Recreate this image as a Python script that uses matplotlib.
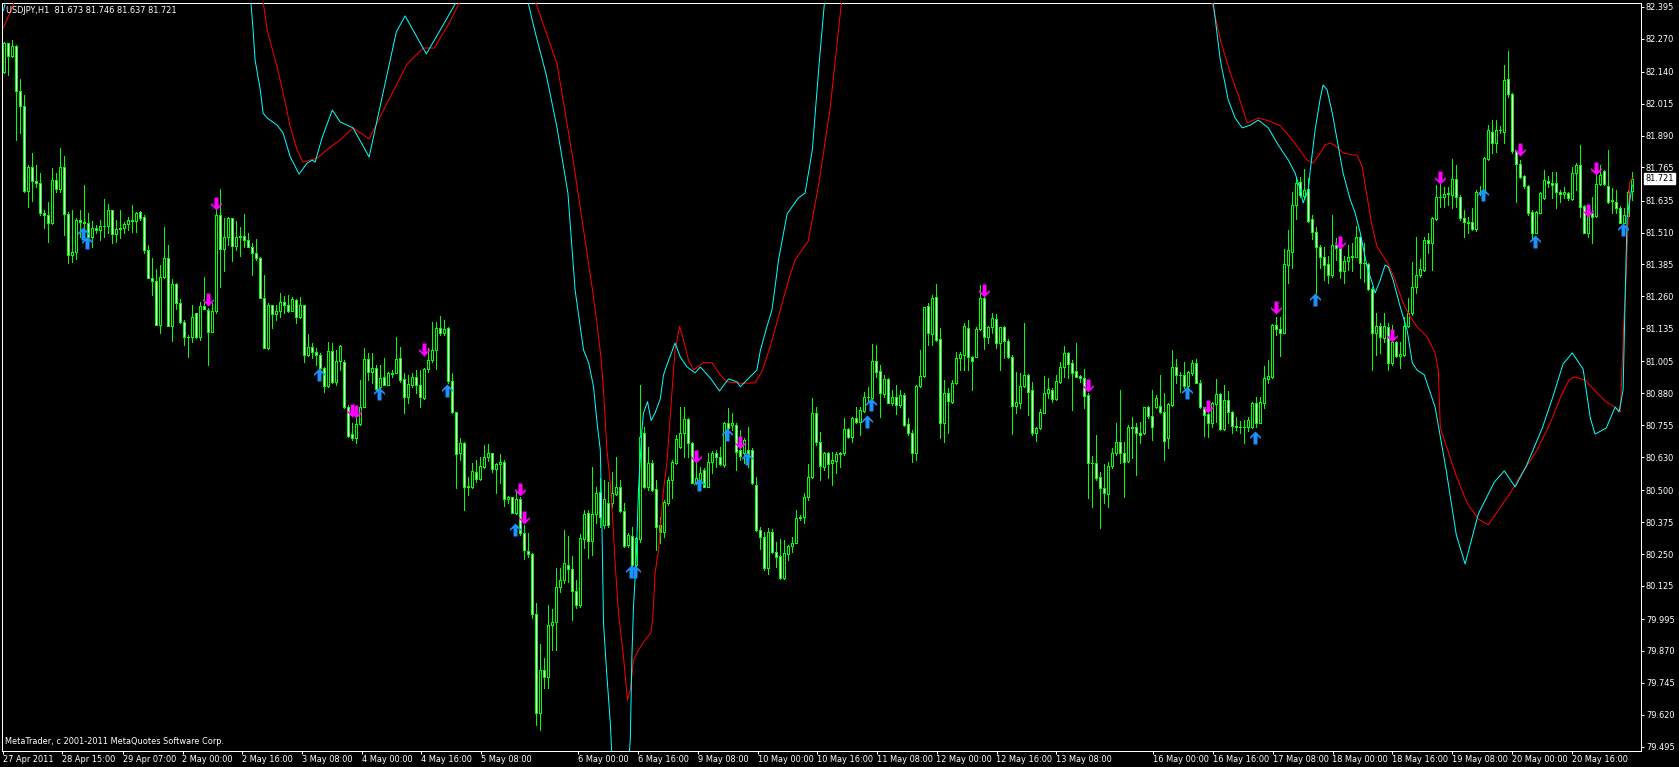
import matplotlib
matplotlib.use("Agg")
import matplotlib.pyplot as plt
from matplotlib.path import Path
from matplotlib import font_manager
import numpy as np

# ---------------- data ----------------
opens = [
82.140,82.251,82.203,82.241,82.066,82.007,81.674,81.767,81.713,81.705,
81.588,81.577,81.546,81.716,81.679,81.767,81.581,81.421,81.434,81.559,
81.553,81.549,81.494,81.526,81.520,81.537,81.536,81.598,81.505,81.522,
81.526,81.543,81.559,81.555,81.590,81.572,81.442,81.333,81.319,81.149,
81.334,81.409,81.145,81.308,81.235,81.161,81.099,81.102,81.193,81.102,
81.222,81.206,81.121,81.202,81.579,81.447,81.491,81.566,81.457,81.491,
81.496,81.481,81.455,81.428,81.411,81.255,81.056,81.225,81.189,81.202,
81.238,81.225,81.202,81.245,81.178,81.225,81.030,81.060,81.042,81.030,
80.978,80.909,81.046,80.923,81.007,81.004,80.827,80.720,80.703,80.760,
80.825,81.014,80.965,80.978,80.906,80.942,80.912,80.958,80.958,81.017,
80.935,80.864,80.912,80.945,80.912,80.860,80.975,81.010,81.050,81.134,
81.115,81.134,80.929,80.805,80.645,80.684,80.514,80.514,80.573,80.543,
80.592,80.632,80.645,80.582,80.603,80.612,80.464,80.472,80.412,80.464,
80.331,80.263,80.250,80.015,79.628,79.796,79.769,79.972,79.982,80.120,
80.148,80.207,80.190,80.106,80.050,80.308,80.412,80.302,80.407,80.494,
80.364,80.449,80.449,80.485,80.514,80.420,80.285,80.322,80.207,80.308,
80.723,80.514,80.605,80.503,80.364,80.338,80.449,80.540,80.606,80.671,
80.723,80.778,80.684,80.530,80.530,80.579,80.514,80.612,80.645,80.629,
80.599,80.762,80.757,80.756,80.658,80.645,80.658,80.658,80.521,80.344,
80.318,80.194,80.338,80.259,80.242,80.155,80.250,80.282,80.295,80.390,
80.394,80.472,80.553,80.804,80.688,80.592,80.647,80.606,80.616,80.642,
80.645,80.739,80.710,80.782,80.769,80.812,80.864,80.860,81.008,80.969,
80.877,80.936,80.843,80.864,80.834,80.873,80.760,80.723,80.645,80.909,
80.948,81.222,81.112,81.256,81.091,80.765,80.880,80.847,80.919,81.017,
81.030,81.135,81.024,81.024,81.131,81.252,81.099,81.138,81.170,81.078,
81.138,81.086,81.024,80.832,80.843,80.909,80.952,80.893,80.726,80.743,
80.804,80.880,80.893,80.856,80.926,80.982,81.039,80.997,80.967,80.948,
80.939,80.873,80.606,80.608,80.551,80.508,80.485,80.595,80.645,80.690,
80.647,80.616,80.747,80.747,80.726,80.723,80.825,80.791,80.828,80.832,
80.808,80.703,80.834,80.982,80.952,80.952,80.909,80.958,81.000,80.922,
80.825,80.799,80.765,80.838,80.876,80.739,80.854,80.808,80.753,80.749,
80.749,80.747,80.749,80.843,80.765,80.843,80.935,80.943,81.148,81.131,
81.118,81.383,81.435,81.618,81.709,81.653,81.679,81.562,81.513,81.452,
81.413,81.387,81.344,81.461,81.448,81.361,81.400,81.413,81.415,81.491,
81.389,81.387,81.287,81.115,81.144,81.095,81.139,81.000,81.082,81.026,
81.030,81.144,81.193,81.295,81.344,81.363,81.481,81.470,81.562,81.651,
81.651,81.661,81.657,81.719,81.651,81.566,81.553,81.553,81.523,81.670,
81.666,81.798,81.905,81.860,81.912,81.905,82.110,82.053,81.831,81.779,
81.732,81.692,81.592,81.510,81.588,81.644,81.713,81.705,81.705,81.670,
81.661,81.664,81.640,81.742,81.775,81.614,81.510,81.585,81.575,81.700,
81.751,81.694,81.632,81.631,81.605,81.549,81.575,81.673]

highs = [
82.258,82.254,82.264,82.245,82.110,82.049,81.775,81.820,81.775,81.742,
81.598,81.631,81.762,81.742,81.840,81.810,81.592,81.598,81.566,81.598,
81.696,81.588,81.557,81.540,81.559,81.641,81.622,81.598,81.559,81.598,
81.553,81.570,81.618,81.592,81.594,81.579,81.461,81.411,81.367,81.383,
81.533,81.461,81.327,81.311,81.248,81.167,81.108,81.226,81.196,81.239,
81.337,81.213,81.232,81.598,81.679,81.566,81.570,81.566,81.557,81.533,
81.583,81.507,81.470,81.483,81.415,81.344,81.232,81.226,81.226,81.272,
81.263,81.265,81.259,81.248,81.259,81.226,81.112,81.078,81.056,81.037,
80.982,81.082,81.076,81.050,81.069,81.010,80.834,80.762,80.782,80.932,
81.056,81.037,81.037,80.991,80.991,81.017,80.965,80.971,81.102,81.060,
80.958,80.952,80.958,80.971,80.971,80.978,81.056,81.161,81.161,81.183,
81.167,81.141,80.958,80.808,80.703,80.690,80.553,80.608,80.618,80.632,
80.677,80.681,80.647,80.608,80.642,80.618,80.477,80.475,80.501,80.475,
80.364,80.331,80.253,80.057,79.897,79.841,80.050,80.033,80.194,80.194,
80.344,80.321,80.242,80.148,80.328,80.423,80.423,80.592,80.514,80.547,
80.540,80.534,80.573,80.632,80.540,80.449,80.334,80.357,80.315,80.912,
80.749,80.668,80.618,80.540,80.396,80.462,80.553,80.619,80.717,80.828,
80.828,80.782,80.690,80.619,80.592,80.586,80.645,80.655,80.658,80.671,
80.769,80.821,80.801,80.762,80.736,80.703,80.749,80.664,80.553,80.357,
80.338,80.351,80.347,80.299,80.308,80.305,80.285,80.316,80.423,80.403,
80.488,80.603,80.860,80.828,80.730,80.651,80.651,80.651,80.651,80.651,
80.782,80.743,80.788,80.828,80.828,80.886,80.906,81.073,81.069,80.991,
80.952,80.939,80.893,80.912,80.893,80.880,80.782,80.736,80.912,81.050,
81.219,81.233,81.265,81.308,81.135,80.932,80.899,80.932,81.043,81.043,
81.157,81.167,81.026,81.141,81.304,81.298,81.144,81.196,81.191,81.141,
81.144,81.091,81.030,80.965,80.958,81.154,80.956,80.926,80.749,80.817,
80.948,80.939,80.899,80.952,81.004,81.065,81.043,81.010,81.076,80.952,
80.974,80.880,80.634,80.717,80.573,80.603,80.612,80.664,80.762,80.893,
80.690,80.756,80.786,80.762,80.769,80.828,80.830,80.893,80.873,80.952,
80.880,80.841,81.050,81.013,80.965,81.004,80.969,81.010,81.013,80.932,
80.828,80.841,80.847,80.935,80.880,80.912,80.890,80.812,80.786,80.773,
80.775,80.788,80.847,80.864,80.867,80.987,81.010,81.152,81.180,81.178,
81.444,81.520,81.670,81.726,81.729,81.758,81.722,81.579,81.533,81.461,
81.455,81.418,81.579,81.487,81.455,81.418,81.461,81.468,81.536,81.496,
81.468,81.392,81.298,81.193,81.154,81.193,81.154,81.148,81.086,81.082,
81.180,81.252,81.396,81.494,81.405,81.494,81.507,81.572,81.696,81.709,
81.690,81.690,81.797,81.775,81.657,81.598,81.572,81.605,81.677,81.692,
81.805,81.931,81.951,81.951,81.928,82.167,82.223,82.056,81.833,81.794,
81.735,81.696,81.598,81.596,81.670,81.755,81.732,81.749,81.749,81.677,
81.690,81.670,81.768,81.781,81.853,81.618,81.618,81.651,81.755,81.775,
81.755,81.833,81.683,81.677,81.614,81.605,81.677,81.746]

lows = [
82.134,82.127,82.199,81.873,81.901,81.670,81.611,81.635,81.690,81.579,
81.529,81.474,81.543,81.670,81.670,81.500,81.392,81.396,81.405,81.494,
81.520,81.468,81.455,81.507,81.481,81.494,81.507,81.470,81.474,81.487,
81.509,81.520,81.513,81.513,81.559,81.431,81.331,81.265,81.148,81.115,
81.331,81.145,81.086,81.209,81.157,81.069,81.024,81.082,81.095,81.089,
81.209,80.991,81.121,81.193,81.298,81.361,81.461,81.400,81.441,81.418,
81.452,81.452,81.344,81.402,81.252,81.056,81.052,81.135,81.167,81.180,
81.193,81.200,81.202,81.157,81.174,81.004,81.026,81.017,80.991,80.965,
80.886,80.906,80.919,80.913,80.971,80.821,80.710,80.697,80.686,80.756,
80.825,80.932,80.919,80.893,80.893,80.912,80.912,80.945,80.958,80.926,
80.804,80.841,80.906,80.880,80.825,80.858,80.965,81.004,80.975,81.108,
81.108,80.922,80.801,80.510,80.618,80.423,80.481,80.507,80.534,80.540,
80.586,80.616,80.573,80.488,80.527,80.438,80.449,80.409,80.407,80.325,
80.229,80.240,79.998,79.580,79.560,79.724,79.724,79.874,79.874,80.103,
80.135,80.142,79.992,80.037,80.044,80.272,80.233,80.246,80.370,80.357,
80.351,80.357,80.436,80.481,80.416,80.279,80.279,80.200,80.200,80.298,
80.507,80.501,80.498,80.266,80.292,80.318,80.442,80.468,80.603,80.664,
80.632,80.632,80.527,80.525,80.514,80.511,80.511,80.566,80.592,80.599,
80.592,80.734,80.736,80.579,80.619,80.606,80.592,80.525,80.342,80.268,
80.187,80.172,80.255,80.201,80.151,80.151,80.227,80.259,80.292,80.383,
80.370,80.462,80.547,80.677,80.540,80.579,80.547,80.521,80.566,80.592,
80.638,80.703,80.690,80.762,80.717,80.808,80.847,80.854,80.945,80.788,
80.867,80.841,80.834,80.799,80.828,80.752,80.717,80.612,80.619,80.906,
80.945,81.069,81.069,81.086,80.703,80.690,80.723,80.843,80.916,80.971,
80.971,80.971,80.893,81.021,81.128,81.052,81.076,81.115,81.056,80.971,
81.017,81.017,80.720,80.801,80.821,80.906,80.795,80.717,80.694,80.739,
80.801,80.860,80.847,80.854,80.919,80.945,80.939,80.815,80.943,80.926,
80.821,80.468,80.436,80.540,80.351,80.449,80.436,80.586,80.638,80.606,
80.472,80.612,80.625,80.560,80.687,80.720,80.782,80.697,80.821,80.801,
80.619,80.664,80.830,80.922,80.886,80.899,80.893,80.952,80.919,80.821,
80.713,80.708,80.749,80.769,80.736,80.736,80.762,80.723,80.736,80.726,
80.687,80.734,80.743,80.749,80.762,80.821,80.922,80.939,81.108,81.026,
81.115,81.314,81.370,81.562,81.651,81.644,81.553,81.483,81.272,81.370,
81.324,81.311,81.337,81.402,81.331,81.311,81.363,81.361,81.413,81.331,
81.317,81.285,80.971,81.030,81.037,81.082,80.971,80.991,81.021,80.978,
81.026,81.141,81.187,81.274,81.337,81.361,81.429,81.363,81.559,81.611,
81.611,81.618,81.605,81.611,81.559,81.494,81.507,81.520,81.517,81.657,
81.664,81.794,81.820,81.827,81.899,81.860,82.042,81.820,81.631,81.722,
81.683,81.579,81.481,81.507,81.585,81.640,81.690,81.644,81.605,81.631,
81.644,81.638,81.638,81.677,81.572,81.507,81.494,81.470,81.572,81.696,
81.696,81.624,81.585,81.585,81.546,81.546,81.572,81.637]

closes = [
82.251,82.203,82.241,82.066,82.007,81.674,81.767,81.713,81.705,81.588,
81.577,81.546,81.716,81.679,81.767,81.581,81.421,81.434,81.559,81.553,
81.549,81.494,81.526,81.520,81.537,81.536,81.598,81.505,81.522,81.526,
81.543,81.559,81.555,81.585,81.568,81.442,81.333,81.319,81.149,81.334,
81.409,81.145,81.308,81.235,81.161,81.099,81.102,81.180,81.102,81.222,
81.209,81.121,81.202,81.579,81.447,81.491,81.566,81.457,81.491,81.496,
81.481,81.455,81.428,81.411,81.255,81.056,81.225,81.189,81.202,81.238,
81.225,81.202,81.248,81.178,81.225,81.030,81.060,81.042,81.030,80.978,
80.909,81.046,80.923,81.007,81.065,80.827,80.714,80.703,80.760,80.825,
81.014,80.965,80.978,80.895,80.939,80.912,80.958,80.954,81.014,80.932,
80.864,80.916,80.945,80.912,80.864,80.975,81.010,81.050,81.134,81.115,
81.131,80.929,80.808,80.641,80.684,80.514,80.517,80.577,80.543,80.595,
80.629,80.645,80.582,80.603,80.612,80.464,80.472,80.412,80.464,80.331,
80.266,80.250,80.015,79.628,79.796,79.769,79.972,79.982,80.120,80.148,
80.214,80.190,80.106,80.050,80.312,80.407,80.302,80.407,80.490,80.396,
80.464,80.364,80.488,80.511,80.420,80.282,80.325,80.207,80.312,80.707,
80.514,80.605,80.501,80.357,80.338,80.455,80.540,80.612,80.700,80.723,
80.778,80.684,80.530,80.547,80.569,80.514,80.612,80.645,80.629,80.603,
80.762,80.743,80.762,80.651,80.634,80.697,80.632,80.527,80.344,80.316,
80.194,80.338,80.259,80.240,80.155,80.253,80.282,80.292,80.390,80.394,
80.475,80.553,80.801,80.688,80.595,80.645,80.603,80.619,80.641,80.645,
80.739,80.710,80.782,80.769,80.815,80.864,80.867,81.008,80.965,80.880,
80.936,80.843,80.864,80.834,80.873,80.756,80.723,80.645,80.909,80.948,
81.217,81.115,81.252,81.089,80.765,80.880,80.851,80.919,81.017,81.034,
81.144,81.024,81.008,81.131,81.252,81.099,81.138,81.174,81.078,81.138,
81.086,81.024,80.832,80.845,80.909,80.952,80.886,80.726,80.743,80.805,
80.880,80.896,80.856,80.929,80.982,81.037,80.995,80.961,80.945,80.939,
80.869,80.606,80.608,80.549,80.508,80.488,80.595,80.645,80.690,80.647,
80.612,80.747,80.743,80.723,80.715,80.825,80.791,80.747,80.860,80.808,
80.694,80.837,80.982,80.952,80.952,80.909,80.962,80.997,80.922,80.825,
80.795,80.765,80.841,80.876,80.739,80.854,80.808,80.753,80.749,80.749,
80.749,80.775,80.843,80.765,80.847,80.939,80.948,81.148,81.131,81.118,
81.387,81.442,81.618,81.705,81.657,81.677,81.557,81.513,81.452,81.413,
81.383,81.344,81.461,81.448,81.361,81.400,81.413,81.418,81.491,81.389,
81.389,81.287,81.115,81.144,81.099,81.144,80.997,81.082,81.026,81.034,
81.144,81.193,81.295,81.344,81.366,81.481,81.470,81.566,81.651,81.651,
81.661,81.664,81.719,81.651,81.566,81.553,81.549,81.523,81.670,81.666,
81.801,81.912,81.860,81.912,81.912,82.108,82.053,81.831,81.779,81.729,
81.692,81.585,81.510,81.592,81.666,81.716,81.703,81.696,81.670,81.661,
81.668,81.644,81.742,81.775,81.611,81.510,81.585,81.572,81.700,81.735,
81.700,81.631,81.638,81.605,81.549,81.579,81.670,81.721]

# indicator lines: (bar position, price) vertices
cyan_idx = [0, 1, 61.7, 62.4, 62.9, 64.2, 64.9, 65.9, 68.4, 69.9, 71.7, 73.9, 75.9, 77.2, 77.9,
            79.7, 82.2, 84.2, 87.4, 91.4, 98.2, 100.4, 105.7, 108.9, 114.2,
            130.7, 132.9, 135.7, 138.4, 141.1, 142.9, 144.2, 145.0, 146.3, 147.5, 148.4, 149.2,
            149.6, 150.0, 150.8, 151.7, 152.2, 153.7, 156.2, 156.7, 157.1, 157.5, 158.2, 158.75,
            159.6, 160.0, 161.0, 161.9, 162.9, 164.2, 165.0, 165.85, 167.9, 169.2, 170.85, 172.9,
            174.2, 176.7, 179.0, 181.25, 183.35, 184.2, 186.7, 188.35, 189.2, 190.85, 192.1,
            192.9, 193.75, 195.9, 198.7, 200.4, 202.2, 203.9, 205.4,
            302.2, 304.2, 306.2, 307.9, 309.7, 311.7, 313.7, 316.2, 318.7, 321.2, 322.9, 324.2,
            324.9, 326.2, 326.7, 327.9, 329.2, 329.9, 330.9, 332.2, 333.4, 334.9, 336.7, 337.9,
            339.2, 340.9, 342.2, 342.9, 344.2, 345.4, 346.2, 347.4, 349.2, 350.9, 352.2, 353.4,
            355.2, 357.9, 360.7, 363.2, 365.4, 368.7, 372.7, 375.2, 377.9, 380.7, 384.7, 387.4,
            389.9, 392.2, 394.9, 396.7, 397.9, 400.7, 402.9, 403.9, 404.9, 405.4, 405.9, 407.2]
cyan_val = [82.380, 82.450, 82.441, 82.304, 82.186, 82.069, 81.978, 81.959, 81.931, 81.900, 81.806,
            81.739, 81.782, 81.794, 81.786, 81.884, 81.990, 81.943, 81.920, 81.806, 82.296, 82.359,
            82.210, 82.296, 82.441,
            82.441, 82.296, 82.127, 81.920, 81.665, 81.285, 81.141, 81.050, 80.999, 80.906, 80.764,
            80.658, 80.372, 79.980, 79.784, 79.588, 79.423, 79.286, 79.423, 79.521, 79.848, 80.044,
            80.240, 80.501, 80.736, 80.803, 80.847, 80.773, 80.803, 80.858, 80.952, 80.991, 81.077,
            81.022, 80.984, 80.960, 80.983, 80.940, 80.889, 80.936, 80.925, 80.906, 80.945, 80.971,
            81.047, 81.141, 81.206, 81.298, 81.402, 81.583, 81.645, 81.665, 81.833, 82.170, 82.441,
            82.441, 82.186, 82.029, 81.959, 81.920, 81.931, 81.951, 81.920, 81.853, 81.794, 81.743,
            81.677, 81.626, 81.677, 81.755, 81.912, 82.037, 82.088, 82.069, 81.978, 81.873, 81.743,
            81.638, 81.587, 81.508, 81.375, 81.312, 81.273, 81.324, 81.383, 81.375, 81.324, 81.218,
            81.128, 80.999, 80.971, 80.952, 80.826, 80.576, 80.325, 80.211, 80.407, 80.532, 80.576,
            80.513, 80.595, 80.744, 80.869, 80.995, 81.038, 80.975, 80.783, 80.720, 80.744, 80.826,
            80.807, 80.893, 81.246, 81.571, 81.696]

red_idx = [0, 2.4, 2.9, 64.7, 65.9, 68.4, 69.9, 71.7, 73.4, 74.9, 78.4, 81.7, 84.2, 87.4, 91.4,
           95.4, 100.9, 104.9, 107.7, 111.7, 114.9,
           132.4, 138.4, 142.4, 147.25, 148.35, 149.35, 150.0, 150.85, 151.7, 152.35, 152.9,
           153.75, 155.0, 156.0, 156.7, 157.5, 158.75, 160.4, 161.85, 162.35, 162.9, 163.75,
           165.0, 165.85, 167.1, 167.9, 169.0, 170.0, 171.25, 172.5, 175.0, 177.1, 179.2, 180.85,
           184.6, 187.9, 189.6, 191.7, 194.2, 196.25, 197.9, 201.2, 203.9, 206.7, 208.7, 209.7,
           301.7, 304.4, 306.9, 309.7, 310.9, 313.7, 316.4, 319.2, 322.2, 325.9, 327.4, 329.2,
           330.4, 331.7, 333.4, 334.9, 337.4, 338.4, 339.7, 340.9, 342.2, 343.4, 345.9, 347.9,
           349.9, 351.7, 353.4, 355.9, 357.9, 358.7, 359.2, 363.2, 365.9, 368.7, 371.2, 373.9,
           376.7, 379.2, 383.4, 386.7, 389.4, 391.4, 392.7, 395.4, 397.9, 400.7, 402.9, 404.2,
           405.2, 405.7, 406.5, 407.2]
red_val = [82.312, 82.402, 82.441, 82.441, 82.304, 82.159, 82.057, 81.924, 81.833, 81.786, 81.802,
           81.845, 81.873, 81.920, 81.877, 82.002, 82.170, 82.233, 82.233, 82.339, 82.441,
           82.441, 82.170, 81.794, 81.285, 81.155, 81.023, 80.893, 80.658, 80.528, 80.372, 80.215,
           80.019, 79.848, 79.678, 79.717, 79.835, 79.874, 79.913, 79.941, 80.005, 80.176, 80.266,
           80.501, 80.607, 80.881, 81.050, 81.141, 81.089, 81.010, 80.971, 81.000, 81.000, 80.952,
           80.925, 80.919, 80.921, 80.965, 81.063, 81.206, 81.324, 81.402, 81.477, 81.708, 82.002,
           82.296, 82.441,
           82.441, 82.253, 82.127, 82.002, 81.939, 81.959, 81.947, 81.928, 81.873, 81.794, 81.782,
           81.822, 81.853, 81.861, 81.845, 81.822, 81.814, 81.814, 81.767, 81.649, 81.532, 81.453,
           81.395, 81.324, 81.234, 81.179, 81.140, 81.101, 81.038, 80.971, 80.744, 80.556, 80.450,
           80.387, 80.364, 80.427, 80.489, 80.556, 80.658, 80.764, 80.869, 80.932, 80.944, 80.932,
           80.889, 80.846, 80.826, 80.807, 81.199, 81.351, 81.704, 81.724]

# signal arrows: bar index and price of the arrow tip
up_bars = [19, 20, 78, 93, 110, 127, 156, 157, 173, 180, 185, 215, 216, 295, 312, 327, 369, 382, 404]
up_tips = [81.530, 81.496, 80.978, 80.906, 80.916, 80.372, 80.207, 80.207, 80.548, 80.744, 80.650,
           80.795, 80.862, 80.909, 80.733, 81.273, 81.685, 81.500, 81.549]
down_bars = [51, 53, 87, 88, 105, 129, 130, 173, 184, 245, 271, 301, 318, 334, 347, 359, 379, 396, 398]
down_tips = [81.222, 81.598, 80.788, 80.783, 81.026, 80.477, 80.368, 80.607, 80.662, 81.257, 80.885,
             80.803, 81.191, 81.445, 81.081, 81.700, 81.810, 81.571, 81.735]

price_ticks = [82.395, 82.270, 82.140, 82.015, 81.890, 81.765, 81.635, 81.510, 81.385, 81.260,
               81.135, 81.005, 80.880, 80.755, 80.630, 80.500, 80.375, 80.250, 80.125, 79.995,
               79.870, 79.745, 79.620, 79.495]
time_tick_pos = [-0.075, 14.6, 29.85, 44.75, 59.7, 74.6, 89.5, 104.4, 119.35, 143.6, 158.6, 173.5,
                 188.5, 203.4, 218.35, 233.25, 248.25, 263.2, 287.35, 302.35, 317.35, 332.25,
                 347.2, 362.2, 377.1, 392.1]
time_tick_labels = ["27 Apr 2011", "28 Apr 15:00", "29 Apr 07:00", "2 May 00:00", "2 May 16:00",
                    "3 May 08:00", "4 May 00:00", "4 May 16:00", "5 May 08:00", "6 May 00:00",
                    "6 May 16:00", "9 May 08:00", "10 May 00:00", "10 May 16:00", "11 May 08:00",
                    "12 May 00:00", "12 May 16:00", "13 May 08:00", "16 May 00:00", "16 May 16:00",
                    "17 May 08:00", "18 May 00:00", "18 May 16:00", "19 May 08:00", "20 May 00:00",
                    "20 May 16:00"]
symbol = "USDJPY,H1"
last_bar = (81.673, 81.746, 81.637, 81.721)

assert len(opens) == len(highs) == len(lows) == len(closes)
assert len(cyan_idx) == len(cyan_val) and len(red_idx) == len(red_val)

# ---------------- fonts ----------------
avail = {f.name for f in font_manager.fontManager.ttflist}
if 'Liberation Sans Narrow' in avail:
    FONT = dict(family='Liberation Sans Narrow', size=8.2)
else:
    FONT = dict(family='DejaVu Sans', stretch='condensed', size=6.6)

# ---------------- figure ----------------
W, H = 1679, 767
DPI = 100
PX = 72.0 / DPI          # one pixel in points
fig = plt.figure(figsize=(W / DPI, H / DPI), dpi=DPI, facecolor='black')
ax = fig.add_axes([2 / W, 1 - 750.5 / H, (1641 - 2) / W, (750.5 - 2.5) / H])
ax.set_facecolor('black')
# 4 px per bar, bar centres on pixel centres
ax.set_xlim(-0.375, (1641 - 3.5) / 4.0)
ax.set_ylim(79.480, 82.4115)

GREEN = '#00ff00'
o = np.array(opens); h = np.array(highs); l = np.array(lows); c = np.array(closes)
x = np.arange(len(o))

ax.vlines(x, l, h, colors=GREEN, linewidth=PX, antialiased=False, zorder=2)
fills = ['white' if cc < oo else 'black' for oo, cc in zip(o, c)]
ax.bar(x, np.abs(c - o), bottom=np.minimum(o, c), width=0.5, color=fills,
       edgecolor=GREEN, linewidth=PX, antialiased=False, zorder=3)

ax.plot(red_idx, red_val, color='#ff0000', linewidth=PX, antialiased=True, zorder=4)
ax.plot(cyan_idx, cyan_val, color='#00ffff', linewidth=PX, antialiased=True, zorder=4)

# arrow markers: tip at the marker origin
up_verts = [(0, 0), (5.5, -5.5), (5.5, -7.5), (2, -4.5), (2, -13), (-2, -13), (-2, -4.5),
            (-5.5, -7.5), (-5.5, -5.5), (0, 0)]
up_path = Path(up_verts, closed=True)
down_path = Path([(vx, -vy) for vx, vy in up_verts], closed=True)
MS = 26 * PX
ax.plot(np.array(up_bars) + 0.75, up_tips, linestyle='none', marker=up_path, markersize=MS,
        color='#1e90ff', markeredgewidth=0, zorder=6)
ax.plot(down_bars, down_tips, linestyle='none', marker=down_path, markersize=MS,
        color='#ff00ff', markeredgewidth=0, zorder=6)

# axes styling
for s in ax.spines.values():
    s.set_color('white')
    s.set_linewidth(PX)
ax.yaxis.tick_right()
ax.set_yticks(price_ticks)
ax.set_yticklabels([f"{v:.3f}" for v in price_ticks])
ax.set_xticks(time_tick_pos)
ax.set_xticklabels(time_tick_labels, ha='left')
ax.tick_params(axis='y', colors='white', direction='out', length=3 * PX, width=PX, pad=2 * PX,
               labelsize=FONT['size'])
ax.tick_params(axis='x', colors='white', direction='out', length=3 * PX, width=PX, pad=1 * PX,
               labelsize=FONT['size'])
for lab in ax.get_xticklabels() + ax.get_yticklabels():
    lab.set_fontfamily(FONT['family'])
    if 'stretch' in FONT:
        lab.set_fontstretch(FONT['stretch'])

extra = {'stretch': FONT['stretch']} if 'stretch' in FONT else {}
# current price box
ax.annotate(f"{last_bar[3]:.3f}", xy=(1.0, last_bar[3]), xycoords=('axes fraction', 'data'),
            xytext=(4.5 * PX, 0), textcoords='offset points', va='center', ha='left',
            color='black', fontsize=FONT['size'], family=FONT['family'],
            bbox=dict(boxstyle='square,pad=0.12', fc='white', ec='white'), annotation_clip=False,
            zorder=10, **extra)

fig.text(6.5 / W, 1 - 10.5 / H,
         f"{symbol}  {last_bar[0]:.3f} {last_bar[1]:.3f} {last_bar[2]:.3f} {last_bar[3]:.3f}",
         color='white', fontsize=FONT['size'], family=FONT['family'], va='center', ha='left', **extra)
fig.text(5 / W, 1 - 741.5 / H, "MetaTrader, c 2001-2011 MetaQuotes Software Corp.",
         color='white', fontsize=FONT['size'], family=FONT['family'], va='center', ha='left', **extra)

fig.savefig('out.png', dpi=DPI, facecolor='black')
